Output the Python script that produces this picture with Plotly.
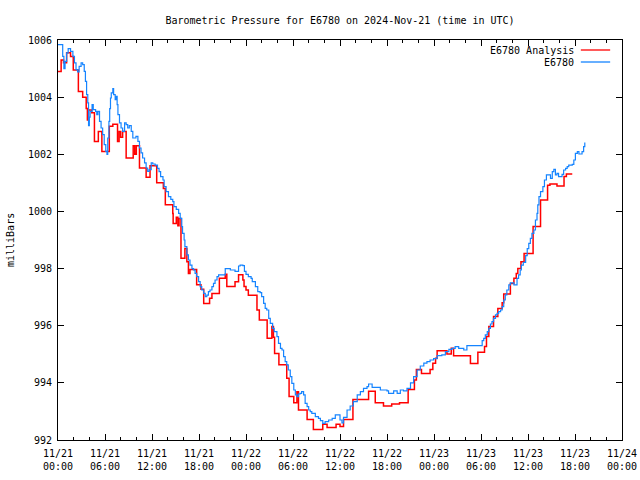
import pandas as pd
import plotly.graph_objects as go

START = "2024-11-21 00:00"

# E6780 station observations: hours since 11/21 00:00 UTC, pressure (mb)
obs_hours = [0.0, 0.6, 0.75, 0.9, 1.1, 1.3, 1.6, 1.9, 2.1, 2.3, 2.5, 2.7, 2.95, 3.15, 3.35, 3.5,
             3.65, 3.8, 3.9, 4.0, 4.1, 4.35, 4.5, 4.8, 4.95, 5.1, 5.3, 5.5, 5.7, 5.9, 6.1, 6.25,
             6.35, 6.5, 6.6, 6.7, 6.8, 7.0, 7.1, 7.3, 7.4, 7.55, 7.65, 7.85, 8.05, 8.25, 8.5, 8.7,
             8.9, 9.1, 9.35, 9.55, 9.95, 10.2, 10.4, 10.6, 10.8, 11.05, 11.25, 11.45, 11.65, 11.9,
             12.1, 12.4, 12.7, 12.9, 13.1, 13.4, 13.55, 13.8, 14.1, 14.4, 14.65, 14.8, 15.1, 15.4,
             15.6, 15.8, 15.9, 16.1, 16.2, 16.45, 16.65, 16.85, 17.1, 17.3, 17.5, 17.7, 17.95,
             18.15, 18.35, 18.6, 18.8, 19.0, 19.2, 19.4, 19.65, 19.85, 20.05, 20.3, 20.5, 21.35,
             22.0, 22.6, 23.05, 23.25, 23.6, 23.8, 24.0, 24.3, 24.65, 24.8, 25.2, 25.5, 25.8, 26.0,
             26.25, 26.45, 26.65, 26.9, 27.1, 27.4, 27.6, 27.95, 28.15, 28.4, 28.6, 28.8, 29.0,
             29.2, 29.4, 29.65, 29.85, 30.1, 30.3, 30.5, 30.7, 30.9, 31.1, 31.35, 31.55, 31.8,
             32.0, 32.2, 32.4, 32.85, 33.25, 33.5, 33.8, 34.1, 34.55, 35.0, 35.4, 35.75, 36.0,
             36.25, 36.45, 36.9, 37.3, 37.7, 38.2, 38.6, 39.0, 39.45, 39.65, 40.1, 40.7, 41.15,
             42.0, 42.2, 42.85, 43.3, 43.7, 44.1, 44.55, 45.0, 45.4, 45.85, 46.25, 46.7, 47.1,
             47.5, 47.95, 48.4, 49.0, 49.45, 49.9, 50.3, 50.7, 51.15, 51.8, 52.2, 53.9, 54.15,
             54.35, 54.55, 54.8, 55.0, 55.2, 55.4, 55.6, 55.85, 56.05, 56.25, 56.5, 56.7, 56.9,
             57.1, 57.3, 57.55, 57.75, 58.2, 58.6, 58.8, 59.0, 59.15, 59.4, 59.7, 59.9, 60.1,
             60.3, 60.5, 60.75, 60.95, 61.15, 61.25, 61.4, 61.6, 61.9, 62.1, 62.35, 62.87, 63.1,
             63.3, 63.5, 63.7, 63.9, 64.35, 64.55, 64.8, 65.0, 65.2, 65.65, 65.85, 66.05, 66.3,
             66.5, 66.9, 67.1, 67.25]
obs_mb = [1005.84, 1005.43, 1005.0, 1005.25, 1005.55, 1005.7, 1005.6, 1005.43, 1005.2, 1004.96,
          1004.88, 1005.08, 1005.2, 1005.14, 1004.9, 1004.55, 1004.09, 1003.8, 1003.0, 1003.3,
          1003.5, 1003.74, 1003.56, 1003.5, 1003.39, 1003.5, 1003.15, 1002.92, 1002.69, 1002.34,
          1002.1, 1002.0, 1002.57, 1003.15, 1003.6, 1003.97, 1004.15, 1004.3, 1004.09, 1003.91,
          1004.03, 1003.74, 1003.39, 1003.1, 1002.92, 1002.8, 1003.1, 1003.04, 1002.92, 1003.0,
          1002.8, 1002.57, 1002.63, 1002.45, 1002.22, 1002.05, 1001.87, 1001.7, 1001.52, 1001.4,
          1001.46, 1001.7, 1001.66, 1001.62, 1001.51, 1001.39, 1001.22, 1001.1, 1000.87, 1000.69,
          1000.52, 1000.42, 1000.34, 1000.17, 1000.07, 999.93, 999.76, 999.47, 999.23, 999.0,
          998.77, 998.48, 998.3, 998.12, 998.0, 997.95, 997.83, 997.72, 997.54, 997.37, 997.25,
          997.13, 997.02, 997.07, 997.19, 997.25, 997.37, 997.48, 997.6, 997.72, 997.78, 998.0,
          997.95, 997.9, 998.09, 998.12, 998.1, 997.9, 997.8, 997.72, 997.66, 997.54, 997.37,
          997.19, 997.16, 997.02, 996.78, 996.61, 996.55, 996.26, 996.08, 995.91, 995.79, 995.62,
          995.38, 995.21, 995.15, 994.92, 994.74, 994.63, 994.45, 994.22, 993.98, 993.75, 993.58,
          993.52, 993.61, 993.63, 993.69, 993.58, 993.28, 993.17, 993.05, 992.99, 992.93, 992.82,
          992.76, 992.68, 992.58, 992.64, 992.7, 992.76, 992.88, 992.88, 992.7, 992.6, 992.79,
          993.05, 993.19, 993.34, 993.58, 993.69, 993.81, 993.87, 993.96, 993.84, 993.84, 993.75,
          993.72, 993.63, 993.72, 993.63, 993.75, 993.72, 993.81, 994.0, 994.22, 994.45, 994.59,
          994.69, 994.74, 994.8, 994.85, 994.95, 994.98, 995.09, 995.17, 995.21, 995.27, 995.21,
          995.15, 995.3, 995.3, 995.48, 995.56, 995.68, 995.79, 995.91, 996.06, 996.14, 996.26,
          996.38, 996.43, 996.49, 996.55, 996.67, 996.9, 997.08, 997.25, 997.43, 997.5, 997.43,
          997.66, 997.78, 997.95, 998.12, 998.22, 998.45, 998.7, 998.88, 999.06, 999.23, 999.35,
          999.7, 999.93, 1000.23, 1000.52, 1000.69, 1000.87, 1001.1, 1001.28, 1001.16, 1001.39,
          1001.47, 1001.28, 1001.33, 1001.22, 1001.3, 1001.45, 1001.51, 1001.57, 1001.62, 1001.65,
          1001.8, 1002.03, 1002.09, 1002.01, 1002.09, 1002.27, 1002.41]

# E6780 Analysis: hours since 11/21 00:00 UTC, pressure (mb)
ana_hours = [0.0, 0.4, 0.7, 1.1, 1.6, 1.95, 2.6, 3.15, 3.6, 3.75, 3.9, 4.3, 4.65, 5.15, 5.6,
             6.55, 7.0, 7.6, 7.8, 8.0, 8.25, 8.7, 9.6, 9.8, 10.0, 10.4, 11.25, 11.75, 12.6, 13.45,
             13.7, 14.65, 14.7, 15.1, 15.3, 15.45, 15.7, 16.2, 16.45, 16.65, 16.85, 17.7, 18.25,
             18.6, 19.35, 19.65, 20.6, 21.35, 21.55, 22.6, 23.05, 23.6, 23.75, 24.0, 24.3, 25.4,
             25.7, 26.7, 27.3, 27.5, 27.65, 28.2, 29.2, 29.5, 30.1, 30.5, 30.7, 31.8, 32.6, 33.8,
             34.35, 35.5, 36.0, 36.45, 37.65, 39.65, 40.5, 41.55, 42.6, 43.6, 44.7, 45.5, 45.75,
             46.4, 47.5, 47.85, 48.2, 48.4, 49.65, 50.2, 50.5, 52.65, 53.6, 54.45, 54.7, 55.0,
             55.6, 56.15, 56.7, 56.9, 57.75, 58.2, 58.5, 58.7, 59.1, 59.5, 60.65, 61.6, 62.5, 62.8,
             63.7, 64.6, 64.9, 65.65]
ana_mb = [1004.9, 1005.3, 1005.2, 1005.55, 1005.42, 1004.95, 1004.2, 1004.0, 1003.6, 1003.2,
          1003.55, 1003.45, 1002.45, 1002.8, 1002.1, 1002.98, 1003.05, 1002.45, 1002.8, 1002.6,
          1002.8, 1001.87, 1002.3, 1002.0, 1002.3, 1001.52, 1001.2, 1001.6, 1001.0, 1000.8,
          1000.23, 999.93, 999.58, 999.8, 999.5, 999.75, 998.36, 998.7, 998.24, 997.83, 997.97,
          997.43, 997.28, 996.78, 996.96, 997.13, 997.66, 997.8, 997.37, 997.54, 997.78, 997.6,
          997.37, 997.25, 997.07, 996.55, 996.2, 995.56, 995.97, 995.6, 995.03, 994.63, 994.16,
          993.52, 993.3, 993.69, 993.05, 992.72, 992.37, 992.55, 992.44, 992.55, 992.47, 992.72,
          993.42, 993.71, 993.3, 993.19, 993.26, 993.3, 993.77, 994.1, 994.47, 994.33, 994.47,
          994.69, 994.86, 995.12, 995.01, 995.21, 994.95, 994.68, 995.07, 995.27, 995.62, 995.97,
          996.32, 996.6, 996.8, 997.11, 997.48, 997.66, 997.83, 998.0, 998.24, 998.53, 999.47,
          1000.4, 1000.92, 1000.96, 1000.89, 1001.22, 1001.31, 1001.31]

series_names = ["E6780 Analysis", "E6780"]
series_colors = ["#ff0000", "#1584ff"]

t0 = pd.Timestamp(START)
obs_t = [t0 + pd.Timedelta(hours=h) for h in obs_hours]
ana_t = [t0 + pd.Timedelta(hours=h) for h in ana_hours]

FONT = "DejaVu Sans Mono"
W, H = 640, 480

fig = go.Figure()
fig.add_trace(go.Scatter(x=ana_t, y=ana_mb, mode="lines", line_shape="hv", name=series_names[0],
                         line=dict(color=series_colors[0], width=1.5), showlegend=False))
fig.add_trace(go.Scatter(x=obs_t, y=obs_mb, mode="lines", line_shape="hv", name=series_names[1],
                         line=dict(color=series_colors[1], width=1.2), showlegend=False))

# gnuplot-style legend: text then line sample, top-right inside the plot
legend_y = [0.975, 0.945]
for name, col, ly in zip(series_names, series_colors, legend_y):
    fig.add_annotation(xref="paper", yref="paper", x=0.918, y=ly, text=name, showarrow=False,
                       xanchor="right", yanchor="middle", font=dict(family=FONT, size=10, color="black"))
    fig.add_shape(type="line", xref="paper", yref="paper", x0=0.927, x1=0.979, y0=ly, y1=ly,
                  line=dict(color=col, width=1.3))

fig.add_annotation(xref="paper", yref="paper", x=-48 / 564, y=0.5, text="milliBars", showarrow=False,
                   textangle=-90, xanchor="center", yanchor="middle",
                   font=dict(family=FONT, size=10, color="black"))

fig.update_layout(
    width=W, height=H,
    margin=dict(l=58, r=18, t=40, b=40, autoexpand=False),
    paper_bgcolor="white", plot_bgcolor="white",
    font=dict(family=FONT, size=10, color="black"),
    title=dict(text="Barometric Pressure for E6780 on 2024-Nov-21 (time in UTC)",
               x=340 / W, xanchor="center", y=1 - 20 / H, yanchor="middle",
               yref="container", font=dict(family=FONT, size=10, color="black")),
    showlegend=False,
)
fig.update_xaxes(
    type="date",
    range=[t0, t0 + pd.Timedelta(hours=72)],
    tick0=t0, dtick=6 * 3600 * 1000,
    tickformat="%m/%d<br>%H:%M",
    ticks="inside", ticklen=6, tickcolor="black", tickwidth=1,
    ticklabelstandoff=4,
    minor=dict(dtick=2 * 3600 * 1000, ticks="inside", ticklen=3, tickcolor="black", showgrid=False),
    showline=True, linecolor="black", linewidth=1, mirror="allticks",
    showgrid=False, zeroline=False,
    tickfont=dict(family=FONT, size=10, color="black"),
)
fig.update_yaxes(
    range=[992, 1006], dtick=2, tick0=992,
    ticks="inside", ticklen=6, tickcolor="black", tickwidth=1,
    ticklabelstandoff=3,
    showline=True, linecolor="black", linewidth=1, mirror="allticks",
    showgrid=False, zeroline=False,
    tickfont=dict(family=FONT, size=10, color="black"),
)

# remove the default 8px page margin so the 640x480 figure fills the window exactly
fig.write_html("out.html", config={"displayModeBar": False},
               post_script="document.body.style.margin='0';")
